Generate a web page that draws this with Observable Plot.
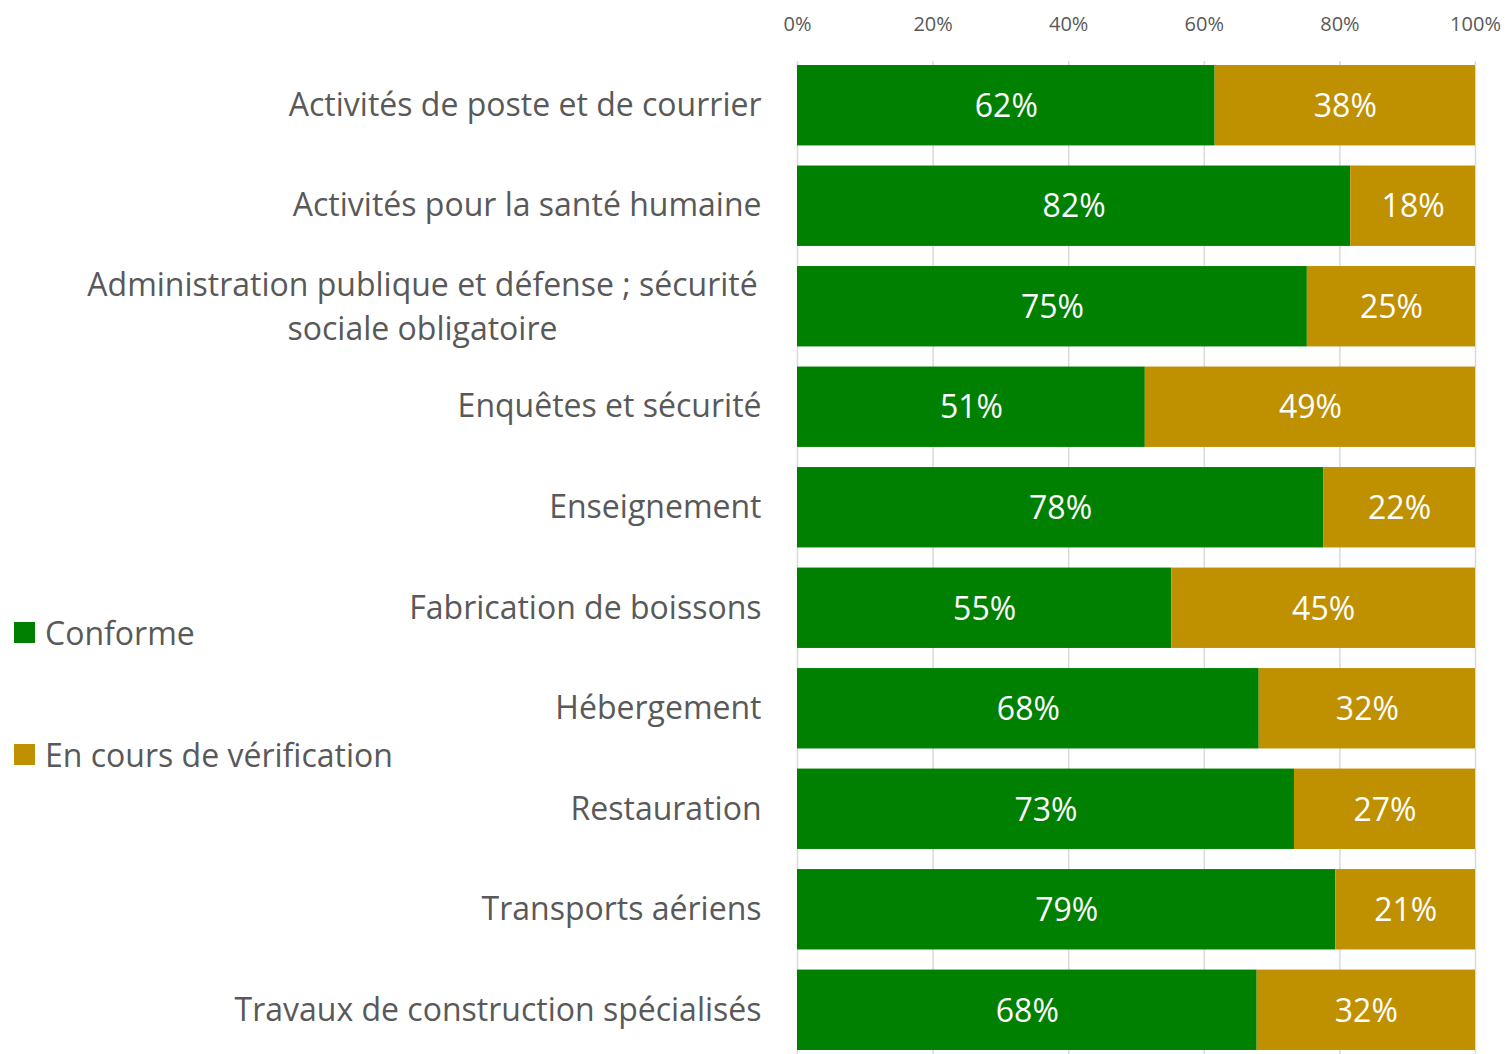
<!DOCTYPE html>
<html><head><meta charset="utf-8">
<script src="https://cdn.jsdelivr.net/npm/d3@7"></script>
<script src="https://cdn.jsdelivr.net/npm/@observablehq/plot@0.6"></script>
<style>
body{margin:0;background:#fff;font-family:"Open Sans",sans-serif;}
#wrap{position:relative;width:1505px;height:1054px;}
.leg{position:absolute;left:14px;font-size:32px;color:#595959;display:flex;align-items:center;white-space:nowrap;}
.leg span.sw{display:inline-block;width:21px;height:21px;margin-right:10px;}
</style></head><body>
<div id="wrap"></div>
<script>
const categories = [
  "Activités de poste et de courrier",
  "Activités pour la santé humaine",
  "Administration publique et défense ; sécurité\nsociale obligatoire",
  "Enquêtes et sécurité",
  "Enseignement",
  "Fabrication de boissons",
  "Hébergement",
  "Restauration",
  "Transports aériens",
  "Travaux de construction spécialisés"
];
const conforme = [61.6, 81.6, 75.2, 51.3, 77.6, 55.2, 68.1, 73.3, 79.4, 67.8];
const seriesNames = ["Conforme", "En cours de vérification"];
const seriesColors = ["#008000", "#BF9000"];
const xTicks = [0, 20, 40, 60, 80, 100];

const rows = [];
categories.forEach((c, i) => {
  rows.push({cat: c, serie: seriesNames[0], value: conforme[i]});
  rows.push({cat: c, serie: seriesNames[1], value: 100 - conforme[i]});
});
const multi = categories[2];

const font = "\"Open Sans\", sans-serif";
const chart = Plot.plot({
  width: 1505, height: 1054,
  marginLeft: 797, marginRight: 30, marginTop: 61, marginBottom: 0,
  style: {fontFamily: font, background: "#fff"},
  x: {domain: [0, 100], ticks: xTicks, tickFormat: d => d + "%", label: null},
  y: {domain: categories, paddingInner: 0.2, paddingOuter: 0.04, round: false, label: null},
  color: {domain: seriesNames, range: seriesColors},
  marks: [
    Plot.gridX(xTicks, {stroke: "#d9d9d9", strokeOpacity: 1, strokeWidth: 1.5}),
    Plot.barX(rows, Plot.stackX({x: "value", y: "cat", fill: "serie", z: "serie"})),
    Plot.text(rows, Plot.stackX({x: "value", y: "cat", z: "serie", text: d => Math.round(d.value) + "%", fill: "white", fontSize: 32, dy: 1})),
    Plot.axisX({anchor: "top", ticks: xTicks, tickFormat: d => d + "%", tickSize: 0, tickPadding: 31, fontSize: 20, color: "#595959", stroke: "none"}),
    Plot.axisY({tickSize: 0, tickPadding: 36, fontSize: 32, color: "#595959", tickFormat: d => d === multi ? "" : d}),
    Plot.text([multi], {y: d => d, frameAnchor: "left", dx: -375, dy: -3, textAnchor: "middle", lineHeight: 1.375, fontSize: 32, fill: "#595959"})
  ]
});
const wrap = document.getElementById("wrap");
wrap.appendChild(chart);
const legTops = [633, 755];
seriesNames.forEach((s, i) => {
  const d = document.createElement("div");
  d.className = "leg";
  d.style.top = (legTops[i] - 22) + "px";
  d.innerHTML = `<span class="sw" style="background:${seriesColors[i]}"></span>${s}`;
  wrap.appendChild(d);
});
</script></body></html>
